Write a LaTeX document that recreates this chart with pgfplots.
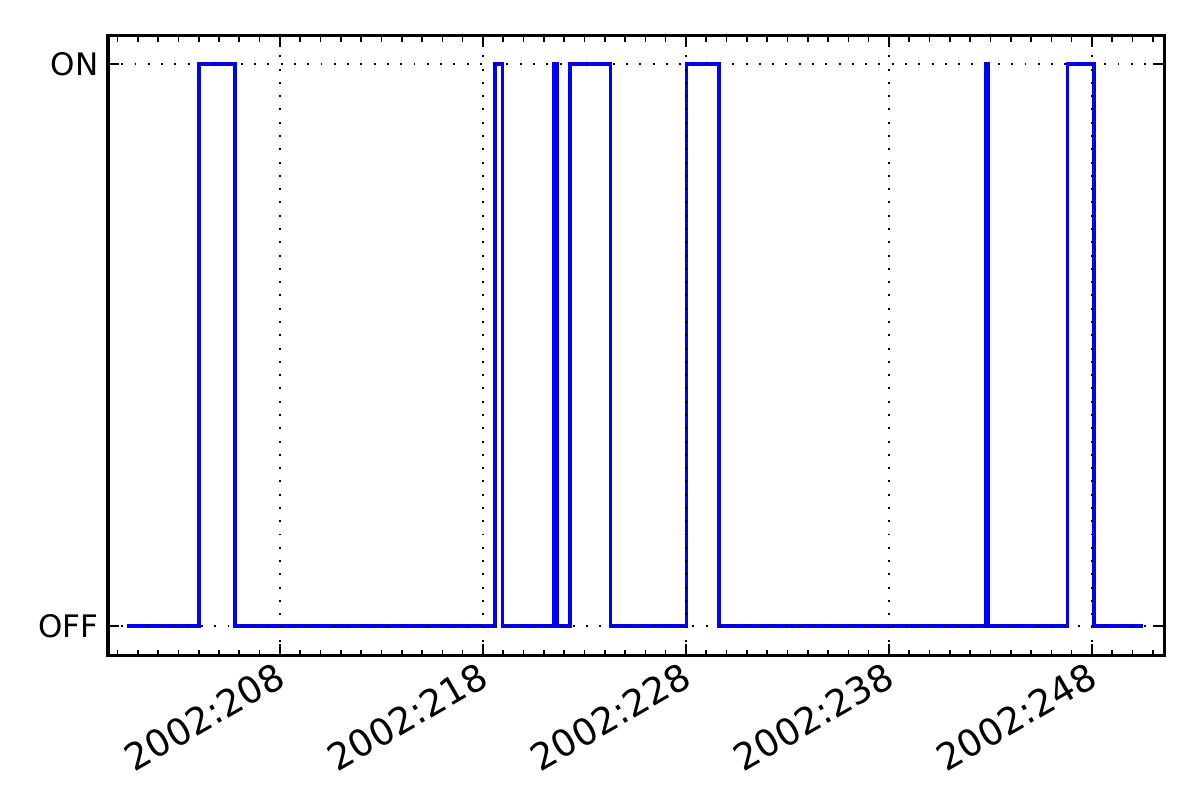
\documentclass[border=0pt]{standalone}
\usepackage{pgfplots}
\pgfplotsset{compat=1.18}
\usepackage{fontspec}
\setmainfont{DejaVu Sans}
\begin{document}
\begin{tikzpicture}
\begin{axis}[
  at={(0,0)}, anchor=south west,
  scale only axis,
  width=381.6pt, height=223.7pt,
  xmin=199.53, xmax=251.55,
  ymin=-0.0516, ymax=1.05,
  xtick={208,218,228,238,248},
  xticklabels={2002:208,2002:218,2002:228,2002:238,2002:248},
  minor xtick={200,...,251},
  ytick={0,1},
  yticklabels={OFF,ON},
  tick align=inside,
  major tick length=4pt,
  minor tick length=2pt,
  tick style={black, line width=0.6pt},
  axis line style={line width=1.1pt},
  xmajorgrids, ymajorgrids,
  grid style={black, dash pattern=on 0.7pt off 4.1pt, line width=0.7pt},
  axis on top,
  yticklabel style={font=\fontsize{11.2}{13}\selectfont},
  xticklabel style={font=\fontsize{13.3}{16}\selectfont, rotate=30, anchor=north east, inner sep=1pt, xshift=-1.8pt, yshift=0.5pt},
]
\addplot[const plot mark left, blue, line width=1.3pt, no marks] coordinates {
(200.45,0) (204.0,1) (205.79,0) (218.59,1) (218.97,0) (221.5,1) (221.68,0)
(222.3,1) (224.28,0) (228.03,1) (229.63,0) (242.75,1) (242.88,0)
(246.8,1) (248.1,0) (250.53,0)
};
\end{axis}
\pgfresetboundingbox
\path (-39.02pt,-52.39pt) rectangle (394.6pt,236.7pt);
\end{tikzpicture}
\end{document}
